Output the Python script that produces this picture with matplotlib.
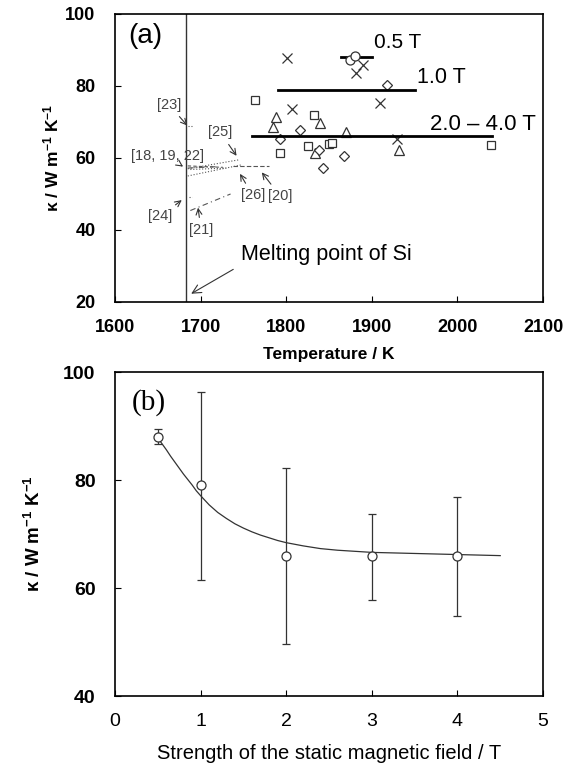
import matplotlib
matplotlib.use("Agg")
import matplotlib.pyplot as plt

plt.rcParams['font.family'] = ['Liberation Sans', 'DejaVu Sans']
plt.rcParams['mathtext.fontset'] = 'custom'
plt.rcParams['mathtext.rm'] = 'Liberation Sans'
plt.rcParams['mathtext.it'] = 'Liberation Sans'
plt.rcParams['mathtext.bf'] = 'Liberation Sans:bold'

# ---------------- Panel (a) data ----------------
circ_T = [1874, 1880]
circ_k = [87.1, 88.2]
cross_T = [1801, 1882, 1890, 1807, 1910, 1929]
cross_k = [87.8, 83.6, 85.9, 73.5, 75.2, 65.4]
diam_T = [1918, 1793, 1816, 1838, 1843, 1867]
diam_k = [80.3, 65.2, 67.7, 62.3, 57.2, 60.5]
sq_T = [1763, 1793, 1833, 1825, 1850, 1853, 2039]
sq_k = [76.1, 61.4, 71.8, 63.3, 63.8, 64.2, 63.5]
tri_T = [1788, 1784, 1839, 1834, 1870, 1932]
tri_k = [71.5, 68.5, 69.6, 61.4, 67.2, 62.3]

# average lines per field
avg_labels = ["0.5 T", "1.0 T", "2.0 – 4.0 T"]
avg_T0 = [1864, 1790, 1760]
avg_T1 = [1900, 1950, 2040]
avg_k = [88, 79, 66]

melting_T = 1683

# literature data (short lines)
lit_23_T = [1685, 1690]; lit_23_k = [69.0, 69.0]
lit_18a_T = [1685, 1726]; lit_18a_k = [57.8, 57.4]
lit_18b_T = [1685, 1720]; lit_18b_k = [57.2, 57.6]
lit_18c_T = [1688, 1730]; lit_18c_k = [56.8, 57.2]
lit_25_T = [1685, 1745]; lit_25_k = [57.0, 59.5]
lit_26_T = [1685, 1748]; lit_26_k = [55.0, 58.1]
lit_20_T = [1738, 1780]; lit_20_k = [57.9, 57.9]
lit_24_T = [1686, 1690]; lit_24_k = [49.1, 49.1]
lit_21_T = [1688, 1735]; lit_21_k = [45.4, 50.0]

# ---------------- Panel (b) data ----------------
B = [0.5, 1, 2, 3, 4]
kB = [88, 79, 66, 66, 66]
kB_err_lo = [1.3, 17.5, 16.4, 8.2, 11.1]
kB_err_hi = [1.4, 17.3, 16.2, 7.8, 10.8]
fit_B = [0.5, 0.55, 0.6, 0.65, 0.7, 0.75, 0.8, 0.85, 0.9, 0.95, 1.0, 1.1, 1.2, 1.3, 1.4,
         1.5, 1.6, 1.7, 1.8, 1.9, 2.0, 2.2, 2.4, 2.6, 2.8, 3.0, 3.25, 3.5, 3.75, 4.0, 4.25, 4.5]
fit_k = [87.8, 86.7, 85.6, 84.4, 83.3, 82.2, 81.1, 80.1, 79.1, 78.0, 77.1, 75.4, 74.0, 72.9, 71.9,
         71.1, 70.4, 69.8, 69.3, 68.8, 68.4, 67.8, 67.3, 67.0, 66.8, 66.6, 66.5, 66.4, 66.3, 66.2, 66.1, 66.0]

fig = plt.figure(figsize=(5.71, 7.63), dpi=100)
ax1 = fig.add_axes([0.2014, 0.6042, 0.7496, 0.3775])
ax2 = fig.add_axes([0.2014, 0.0878, 0.7496, 0.4246])

mk = dict(linestyle='none', mfc='white', mec='#333333', mew=0.9)
ax1.plot(sq_T, sq_k, marker='s', ms=6, **mk)
ax1.plot(tri_T, tri_k, marker='^', ms=6.5, **mk)
ax1.plot(diam_T, diam_k, marker='D', ms=5, **mk)
ax1.plot(cross_T, cross_k, marker='x', ms=7, linestyle='none', color='#333333', mew=0.9)

for t0, t1, k in zip(avg_T0, avg_T1, avg_k):
    ax1.plot([t0, t1], [k, k], color='black', lw=2, zorder=3)
ax1.plot(circ_T, circ_k, marker='o', ms=6.5, zorder=4, **mk)

ax1.axvline(melting_T, color='#333333', lw=1)

lc = '#555555'
ax1.plot(lit_23_T, lit_23_k, color=lc, lw=0.8, ls=':')
ax1.plot(lit_18a_T, lit_18a_k, color=lc, lw=0.8, ls=(0, (3, 2)))
ax1.plot(lit_18b_T, lit_18b_k, color=lc, lw=0.8, ls=(0, (5, 2, 1, 2)))
ax1.plot(lit_18c_T, lit_18c_k, color=lc, lw=0.8, ls=':')
ax1.plot(lit_25_T, lit_25_k, color=lc, lw=0.8, ls=':')
ax1.plot(lit_26_T, lit_26_k, color=lc, lw=0.8, ls=':')
ax1.plot(lit_20_T, lit_20_k, color=lc, lw=0.8, ls=(0, (4, 2)))
ax1.plot(lit_24_T, lit_24_k, color=lc, lw=0.8, ls=':')
ax1.plot(lit_21_T, lit_21_k, color=lc, lw=0.8, ls=(0, (5, 3, 1, 3)))

ap = dict(arrowstyle='->', lw=0.8, color='#333333', shrinkA=2, shrinkB=0)
tc = '#444444'
fs_ref = 10.5
ax1.annotate('[23]', xy=(1684.5, 69), xytext=(1663, 74.8), ha='center', va='center',
             fontsize=fs_ref, color=tc, arrowprops=ap)
ax1.annotate('[18, 19, 22]', xy=(1679.5, 57.6), xytext=(1661, 60.6), ha='center', va='center',
             fontsize=fs_ref, color=tc, arrowprops=ap)
ax1.annotate('[25]', xy=(1742, 60.6), xytext=(1723, 67.1), ha='center', va='center',
             fontsize=fs_ref, color=tc, arrowprops=ap)
ax1.annotate('[26]', xy=(1746, 55.6), xytext=(1761, 49.6), ha='center', va='center',
             fontsize=fs_ref, color=tc, arrowprops=ap)
ax1.annotate('[20]', xy=(1771.5, 56.0), xytext=(1793, 49.4), ha='center', va='center',
             fontsize=fs_ref, color=tc, arrowprops=ap)
ax1.annotate('[24]', xy=(1678, 48.3), xytext=(1653, 43.8), ha='center', va='center',
             fontsize=fs_ref, color=tc, arrowprops=ap)
ax1.annotate('[21]', xy=(1697, 46.2), xytext=(1700.5, 40.0), ha='center', va='center',
             fontsize=fs_ref, color=tc, arrowprops=ap)
ax1.annotate('Melting point of Si', xy=(1689, 22.3), xytext=(1747, 33.2), ha='left', va='center',
             fontsize=15.5, color='black', arrowprops=dict(arrowstyle='->', lw=0.8, color='#333333',
                                                            shrinkA=4, shrinkB=0, relpos=(0, 0)))

ax1.text(1903, 92, avg_labels[0], fontsize=15, ha='left', va='center')
ax1.text(1953, 82.3, avg_labels[1], fontsize=15.5, ha='left', va='center')
ax1.text(1968, 69.4, avg_labels[2], fontsize=16, ha='left', va='center')
ax1.text(1616, 93.8, '(a)', fontsize=20, ha='left', va='center')

ax1.set_xlim(1600, 2100)
ax1.set_ylim(20, 100)
ax1.set_xticks([1600, 1700, 1800, 1900, 2000, 2100])
ax1.set_yticks([20, 40, 60, 80, 100])
ax1.set_xlabel('Temperature / K', fontsize=12.5, fontweight='bold', labelpad=8)
ylab = r'κ / W m$^{\mathregular{-1}}$ K$^{\mathregular{-1}}$'
ax1.set_ylabel(ylab, fontsize=12.5, fontweight='bold', labelpad=3)

# ---------------- Panel (b) ----------------
ax2.plot(fit_B, fit_k, color='#333333', lw=0.9, zorder=2)
ax2.errorbar(B, kB, yerr=[kB_err_lo, kB_err_hi], fmt='o', ms=6.5, mfc='white', mec='#333333',
             mew=0.9, ecolor='#333333', elinewidth=0.9, capsize=3, capthick=0.9, zorder=3)
ax2.text(0.2, 94.4, '(b)', fontsize=21, family='Liberation Serif', ha='left', va='center')
ax2.set_xlim(0, 5)
ax2.set_ylim(40, 100)
ax2.set_xticks([0, 1, 2, 3, 4, 5])
ax2.set_yticks([40, 60, 80, 100])
ax2.set_xlabel('Strength of the static magnetic field / T', fontsize=14.5, labelpad=10)
ax2.set_ylabel(ylab, fontsize=13.5, fontweight='bold', labelpad=14)

for ax in (ax1, ax2):
    ax.tick_params(direction='in', length=4, width=0.8)
    ax.tick_params(axis='x', pad=12)
    ax.tick_params(axis='y', pad=14)
    for s in ax.spines.values():
        s.set_linewidth(1.2)
ax1.tick_params(labelsize=13)
ax2.tick_params(labelsize=14)
for lab in ax1.get_yticklabels() + ax1.get_xticklabels() + ax2.get_yticklabels():
    lab.set_fontweight('bold')

fig.savefig('out.png', dpi=100)
